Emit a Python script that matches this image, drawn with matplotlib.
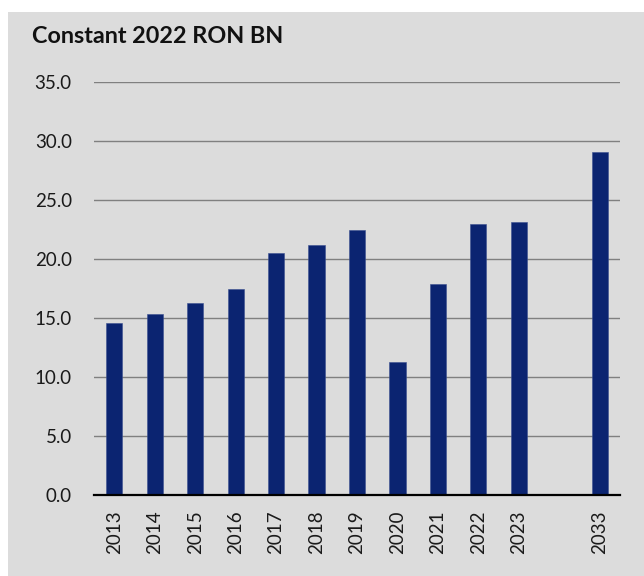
import matplotlib.pyplot as plt
import numpy as np

years = ['2013', '2014', '2015', '2016', '2017', '2018', '2019',
         '2020', '2021', '2022', '2023', '2033']
values = [14.6, 15.3, 16.25, 17.45, 20.55, 21.15, 22.5,
          11.3, 17.85, 22.95, 23.15, 29.1]
# 2033 sits one empty slot after 2023
slots = [0, 1, 2, 3, 4, 5, 6, 7, 8, 9, 10, 12]
yticks = [0, 5, 10, 15, 20, 25, 30, 35]

bg = '#dcdcdc'
navy = '#0b2471'

plt.rcParams['font.family'] = ['Lato', 'DejaVu Sans']

fig = plt.figure(figsize=(6.44, 5.76), dpi=100, facecolor='white')
back = fig.add_axes([8/644, 0, 1, 1 - 12/576], zorder=0)
back.axis('off')
back.add_patch(plt.Rectangle((0, 0), 1, 1, transform=back.transAxes,
                             facecolor=bg, edgecolor='none'))

ax = fig.add_axes([94/644, 81/576, 526/644, 413/576], zorder=1)
ax.set_facecolor(bg)
ax.bar(slots, values, width=0.4, color=navy, edgecolor='#3a4f8f', linewidth=0.4, zorder=3)

ax.set_xlim(-0.5, 12.5)
ax.set_ylim(0, 35)
ax.set_yticks(yticks)
ax.set_yticklabels([f'{v:.1f}' for v in yticks], fontsize=13.5)
ax.set_xticks(slots)
ax.set_xticklabels(years, rotation=90, fontsize=13.5)
ax.tick_params(axis='both', length=0, colors='#1a1a1a')
ax.yaxis.set_tick_params(pad=16)
ax.xaxis.set_tick_params(pad=11)

ax.yaxis.grid(True, color='#808080', linewidth=1.0, zorder=1)
ax.set_axisbelow(True)
for s in ['top', 'right', 'left']:
    ax.spines[s].set_visible(False)
ax.spines['bottom'].set_color('black')
ax.spines['bottom'].set_linewidth(1.6)
ax.spines['bottom'].set_zorder(4)

fig.text(32/644, 1 - 43/576, 'Constant 2022 RON BN', fontsize=16.8, fontweight='bold',
         color='#111111', ha='left', va='baseline', zorder=5)

fig.savefig('out.png', dpi=100, facecolor='white')
